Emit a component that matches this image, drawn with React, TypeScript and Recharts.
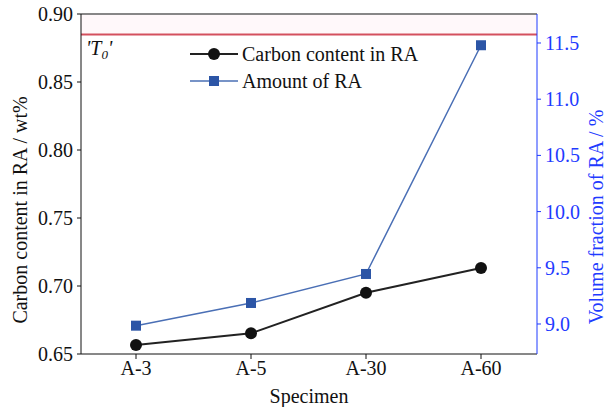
import React from 'react';
import { LineChart, Line, XAxis, YAxis, ReferenceLine, Label } from 'recharts';

const specimens = ['A-3', 'A-5', 'A-30', 'A-60'];
const carbonContent = [0.6566, 0.6652, 0.695, 0.7132];
const amountRA = [8.985, 9.187, 9.445, 11.48];
const leftTicks = [0.65, 0.7, 0.75, 0.8, 0.85, 0.9];
const rightTicks = [9.0, 9.5, 10.0, 10.5, 11.0, 11.5];
const t0Level = 0.885;

const data = specimens.map((s, i) => ({ name: s, carbon: carbonContent[i], amount: amountRA[i] }));

const FONT = 'Liberation Serif, Tinos, Times New Roman, DejaVu Serif, serif';
const BLUE_AXIS = '#1f3bff';

const Square = (props: any) => {
  const { cx, cy } = props;
  if (cx == null || cy == null) return null;
  return <rect x={cx - 5} y={cy - 5} width={10} height={10} fill="#2c55a6" />;
};

const LegendBox = () => (
  <svg width={260} height={56} style={{ position: 'absolute', left: 190, top: 42, overflow: 'visible' }}>
    <line x1={0} y1={12} x2={48} y2={12} stroke="#222" strokeWidth={2} />
    <circle cx={24} cy={12} r={6} fill="#111" />
    <text x={52} y={19} style={{ fontFamily: FONT, fontSize: 20 }} fill="#111">Carbon content in RA</text>
    <line x1={0} y1={39} x2={48} y2={39} stroke="#4a6fb5" strokeWidth={1.5} />
    <rect x={19} y={34} width={10} height={10} fill="#2c55a6" />
    <text x={52} y={46} style={{ fontFamily: FONT, fontSize: 20 }} fill="#111">Amount of RA</text>
  </svg>
);

const T0Label = (props: any) => {
  const { viewBox } = props;
  const x = viewBox.x + 5;
  const y = viewBox.y + 21;
  return (
    <text x={x} y={y} style={{ fontFamily: FONT, fontSize: 20, fontStyle: 'italic' }} fill="#111">
      'T<tspan style={{ fontSize: 13 }} dy={4}>0</tspan><tspan dy={-4}>'</tspan>
    </text>
  );
};

const makeVLabel = (text: string, color: string, offX: number, offY: number) => (props: any) => {
  const { viewBox } = props;
  const x = viewBox.x + offX;
  const y = viewBox.y + viewBox.height / 2 + offY;
  return (
    <text
      x={x}
      y={y}
      transform={`rotate(-90, ${x}, ${y})`}
      textAnchor="middle"
      dominantBaseline="central"
      style={{ fontFamily: FONT, fontSize: 20 }}
      fill={color}
    >
      {text}
    </text>
  );
};

const LeftLabel = makeVLabel('Carbon content in RA / wt%', '#111', 20, 26);
const RightLabel = makeVLabel('Volume fraction of RA / %', BLUE_AXIS, 59, 33);

export default function App() {
  return (
    <div style={{ position: 'absolute', left: 0, top: 0, width: 608, height: 407, background: '#fff', fontFamily: FONT }}>
      <LineChart width={608} height={407} data={data} margin={{ top: 14, right: 0, bottom: 0, left: 0 }} style={{ fontFamily: FONT }}>
        <ReferenceLine yAxisId="left" y={(t0Level + 0.9) / 2} stroke="#fff8fa" strokeWidth={19} />
        <XAxis
          dataKey="name"
          height={53}
          padding={{ left: 55, right: 56 }}
          stroke="#111"
          tickSize={5}
          tick={{ fill: '#111', fontSize: 20, fontFamily: FONT }}
          tickMargin={2}
        >
          <Label value="Specimen" position="insideBottom" offset={4} style={{ fill: '#111', fontSize: 20, fontFamily: FONT }} />
        </XAxis>
        <YAxis
          yAxisId="left"
          width={81}
          domain={[0.65, 0.9]}
          ticks={leftTicks}
          tickFormatter={(v: number) => v.toFixed(2)}
          interval={0}
          stroke="#111"
          tickSize={4}
          tickMargin={4}
          tick={{ fill: '#111', fontSize: 20, fontFamily: FONT }}
        >
          <Label content={LeftLabel} />
        </YAxis>
        <YAxis
          yAxisId="right"
          orientation="right"
          width={71}
          domain={[8.733, 11.758]}
          ticks={rightTicks}
          tickFormatter={(v: number) => v.toFixed(1)}
          interval={0}
          stroke={BLUE_AXIS}
          tickSize={4}
          tickMargin={4}
          tick={{ fill: BLUE_AXIS, fontSize: 20, fontFamily: FONT }}
        >
          <Label content={RightLabel} />
        </YAxis>
        <ReferenceLine yAxisId="left" y={0.9} stroke="#111" strokeWidth={1.2} />
        <ReferenceLine yAxisId="left" y={t0Level} stroke="#d4505e" strokeWidth={2} label={<T0Label />} />
        <Line
          yAxisId="right"
          dataKey="amount"
          stroke="#4a6fb5"
          strokeWidth={1.5}
          dot={<Square />}
          activeDot={false}
          isAnimationActive={false}
        />
        <Line
          yAxisId="left"
          dataKey="carbon"
          stroke="#222"
          strokeWidth={2}
          dot={{ r: 6, fill: '#111', stroke: '#111', strokeWidth: 0 }}
          activeDot={false}
          isAnimationActive={false}
        />
      </LineChart>
      <LegendBox />
    </div>
  );
}
